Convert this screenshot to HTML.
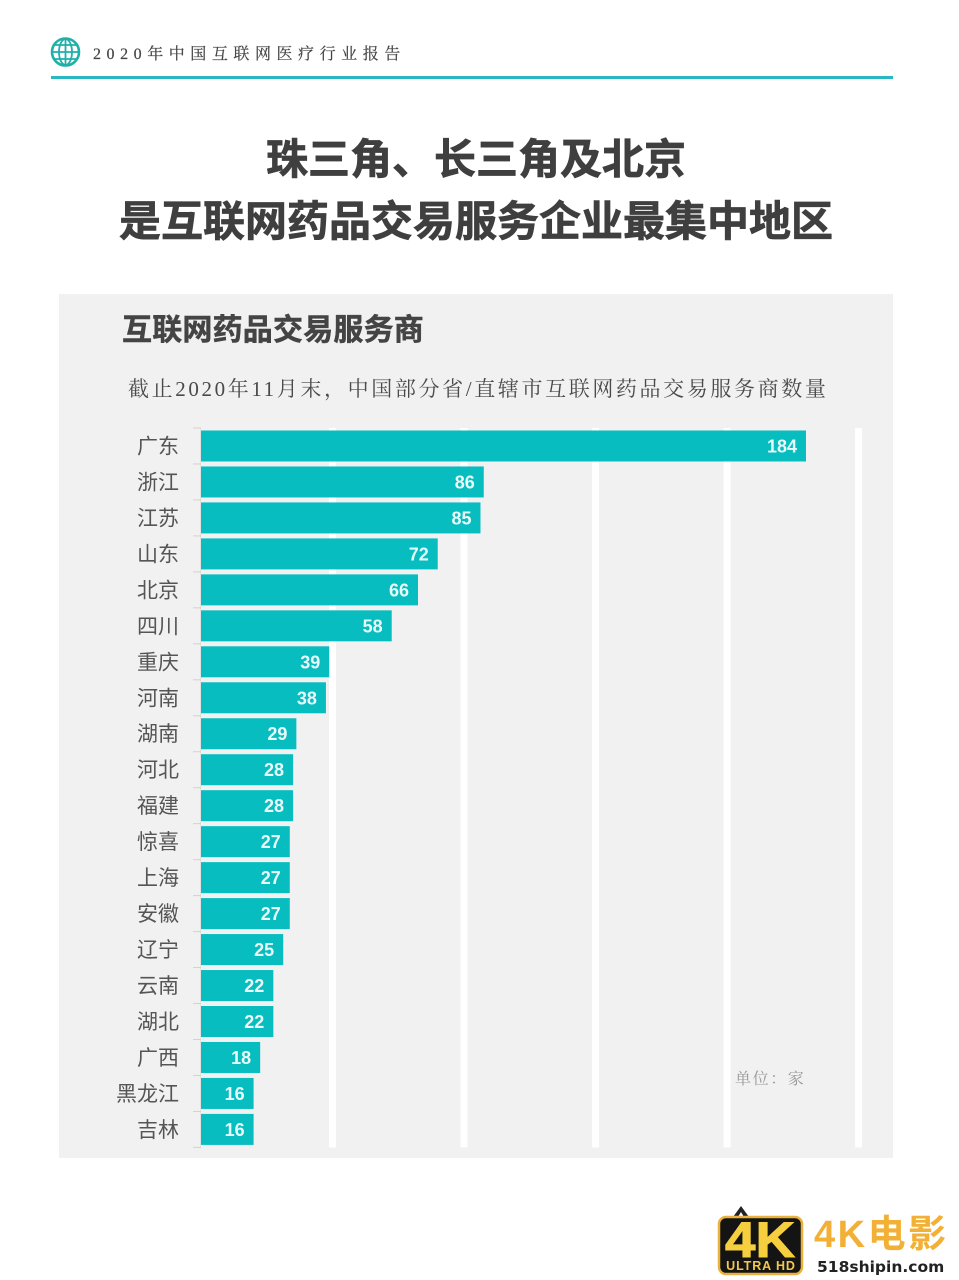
<!DOCTYPE html>
<html lang="zh">
<head>
<meta charset="utf-8">
<title>互联网药品交易服务商</title>
<style>
html,body{margin:0;padding:0;background:#fff}
#page{position:relative;width:959px;height:1280px;overflow:hidden;background:#fff;font-family:"Liberation Sans","Noto Sans CJK SC",sans-serif}
svg{position:absolute;left:0;top:0}
</style>
</head>
<body>
<div id="page">
<svg id="chart" width="959" height="1280" viewBox="0 0 959 1280" xmlns="http://www.w3.org/2000/svg">
  <g>
    <g fill="none" stroke="#1fb0a8" stroke-width="1.8">
      <circle cx="65.500" cy="52" r="13.500" stroke-width="2.600"/>
      <ellipse cx="65.500" cy="52" rx="6.500" ry="13"/>
      <line x1="65.500" y1="39" x2="65.500" y2="65"/>
      <line x1="52" y1="52" x2="79" y2="52"/>
      <line x1="54" y1="45" x2="77" y2="45"/>
      <line x1="54" y1="59" x2="77" y2="59"/>
    </g>
    <text x="93" y="59" font-family="'Liberation Serif','Noto Serif CJK SC',serif" font-size="16" letter-spacing="5.550" fill="#444" stroke="#444" stroke-width=".2">2020年中国互联网医疗行业报告</text>
    <rect x="51" y="76" width="842" height="3" fill="#2bb7c1"/>
  </g>
  <g font-family="'Liberation Sans','Noto Sans CJK SC',sans-serif" font-size="42" font-weight="700" fill="#3f3f3f" stroke="#3f3f3f" stroke-width=".7" text-anchor="middle">
    <text x="476" y="174">珠三角、长三角及北京</text>
    <text x="476" y="236">是互联网药品交易服务企业最集中地区</text>
  </g>
  <rect x="59" y="294" width="834" height="864" fill="#f1f1f1"/>
  <text x="122" y="340" font-family="'Liberation Sans','Noto Sans CJK SC',sans-serif" font-size="30" font-weight="700" letter-spacing=".2" fill="#444" stroke="#444" stroke-width=".5">互联网药品交易服务商</text>
  <text x="128" y="396" font-family="'Liberation Serif','Noto Serif CJK SC',serif" font-size="21" letter-spacing="2.620" fill="#4a4a4a">截止2020年11月末，中国部分省/直辖市互联网药品交易服务商数量</text>
  <g id="grid"></g>
  <g id="axis"></g>
  <g id="bars"></g>
  <text x="735" y="1084" font-family="'Liberation Serif','Noto Serif CJK SC',serif" font-size="16" letter-spacing="1.600" fill="#999">单位：家</text>
  <g>
    <path d="M733 1217l8-11 8 11h-5l-3-5-3 5z" fill="#222"/>
    <rect x="719" y="1217" width="83" height="57" rx="7" fill="#141414" stroke="#e9b13d" stroke-width="2.500"/>
    <text x="760" y="1257" text-anchor="middle" font-family="'Liberation Sans',sans-serif" font-size="50" font-weight="700" textLength="70" lengthAdjust="spacingAndGlyphs" fill="#f6cf3f" stroke="#f6cf3f" stroke-width="1">4K</text>
    <text x="761" y="1270" text-anchor="middle" font-family="'Liberation Sans',sans-serif" font-size="12.500" font-weight="700" letter-spacing=".9" fill="#f3c84a">ULTRA HD</text>
    <text x="814" y="1247" font-family="'Liberation Sans','Noto Sans CJK SC',sans-serif" font-size="38" font-weight="700" letter-spacing="2.500" fill="#f2b136">4K电影</text>
    <text x="817" y="1272" font-family="'DejaVu Sans',sans-serif" font-size="15.500" font-weight="700" fill="#222">518shipin.com</text>
  </g>
</svg>
</div>
<script>
const categories = ["广东","浙江","江苏","山东","北京","四川","重庆","河南","湖南","河北","福建","惊喜","上海","安徽","辽宁","云南","湖北","广西","黑龙江","吉林"];
const values = [184,86,85,72,66,58,39,38,29,28,28,27,27,27,25,22,22,18,16,16];
const gridTicks = [40,80,120,160,200];

const NS = 'http://www.w3.org/2000/svg';
const plotLeft = 201, plotTop = 428, bandH = 35.97, barH = 31, unitPx = 3.288;
const xScale = function (v) { return plotLeft + v * unitPx; };
const yBand = function (i) { return plotTop + i * bandH; };
const plotBottom = yBand(categories.length);

function make(tag, attrs, parent, text) {
  const el = document.createElementNS(NS, tag);
  for (const k in attrs) el.setAttribute(k, attrs[k]);
  if (text !== undefined) el.textContent = text;
  parent.appendChild(el);
  return el;
}

const gridG = document.getElementById('grid');
gridTicks.forEach(function (t) {
  const el = make('rect', {x: xScale(t) - 3.5, y: plotTop, width: 7, height: plotBottom - plotTop, fill: '#ffffff'}, gridG);
  
  
});

const axisG = document.getElementById('axis');
const axisLine = make('line', {x1: plotLeft - 0.5, x2: plotLeft - 0.5, y1: plotTop, y2: plotBottom, stroke: '#e2e2e2', 'stroke-width': 1}, axisG);


for (let i = 0; i <= categories.length; i++) {
  const tick = make('line', {x1: plotLeft - 8, x2: plotLeft, y1: yBand(i), y2: yBand(i), stroke: '#d6d1cc', 'stroke-width': 1}, axisG);
  
  
}

const barsG = document.getElementById('bars');
categories.forEach(function (c, i) {
  const y = yBand(i) + (bandH - barH) / 2;
  const mid = yBand(i) + bandH / 2;
  const label = make('text', {x: 179, y: mid + 7.5, 'text-anchor': 'end', 'font-size': 21, fill: '#555', 'font-family': "'Liberation Sans','Noto Sans CJK SC',sans-serif"}, axisG, c);
  
  
  const bar = make('rect', {x: plotLeft, y: y, width: xScale(values[i]) - plotLeft, height: barH, fill: '#08bdc0'}, barsG);
  
  
  const val = make('text', {x: xScale(values[i]) - 9, y: mid + 6.5, 'text-anchor': 'end', 'font-size': 18, 'font-weight': 700, fill: '#e8fbfb', 'font-family': "'Liberation Sans',sans-serif"}, barsG, values[i]);
  
  
});
</script>
</body>
</html>
